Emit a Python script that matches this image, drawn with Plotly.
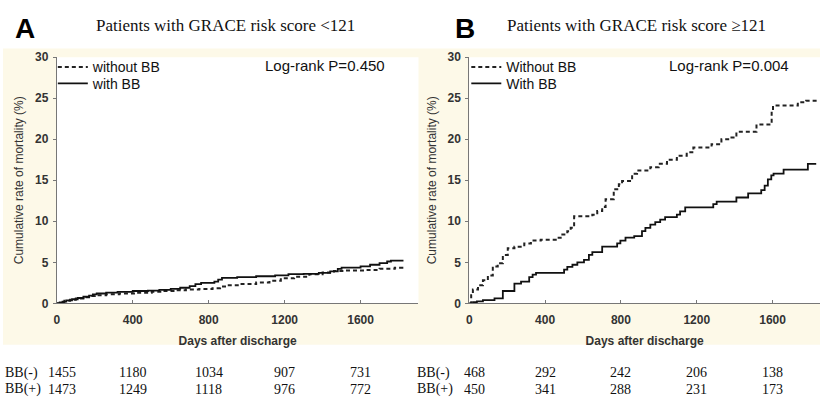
import plotly.graph_objects as go

W, H = 820, 403

# ---------------- data ----------------
# Panel A: GRACE risk score < 121
a_with_days = [0, 15, 30, 50, 80, 110, 140, 170, 190, 210, 260, 320, 400, 480, 540, 600, 650, 700,
               730, 760, 830, 850, 870, 950, 1050, 1150, 1220, 1300, 1380, 1440, 1480, 1500, 1600,
               1650, 1700, 1740, 1760, 1826]
a_with_vals = [0, 0.1, 0.2, 0.35, 0.5, 0.65, 0.8, 0.95, 1.1, 1.2, 1.3, 1.4, 1.5, 1.55, 1.65, 1.75, 1.9, 2.1,
               2.35, 2.5, 2.65, 2.9, 3.1, 3.2, 3.3, 3.4, 3.55, 3.6, 3.7, 3.9, 4.2, 4.35, 4.5,
               4.7, 4.9, 5.1, 5.2, 5.2]
a_without_days = [0, 20, 40, 70, 100, 140, 170, 200, 260, 330, 420, 500, 560, 620, 680, 750, 820, 860,
                  900, 960, 1050, 1120, 1180, 1250, 1330, 1400, 1460, 1520, 1620, 1700, 1780, 1820, 1826]
a_without_vals = [0, 0.15, 0.3, 0.45, 0.6, 0.75, 0.9, 1.0, 1.1, 1.2, 1.3, 1.4, 1.5, 1.6, 1.7, 1.75, 1.85, 2.05,
                  2.2, 2.35, 2.55, 2.75, 3.05, 3.25, 3.55, 3.75, 3.95, 4.0, 4.05, 4.2, 4.35, 4.6, 4.6]

# Panel B: GRACE risk score >= 121
b_with_days = [0, 20, 40, 72, 133, 177, 238, 273, 316, 334, 352, 500, 517, 544, 570, 605, 631, 649,
               701, 780, 797, 824, 870, 911, 929, 955, 981, 1007, 1033, 1095, 1112, 1139, 1287, 1305,
               1409, 1471, 1540, 1558, 1575, 1593, 1605, 1658, 1786, 1830]
b_with_vals = [0, 0.15, 0.23, 0.4, 0.6, 1.5, 2.4, 2.65, 3.2, 3.5, 3.7, 4.1, 4.45, 4.7, 5.0, 5.3, 5.9, 6.25,
               6.9, 7.3, 7.65, 8.0, 8.2, 8.8, 9.2, 9.6, 9.9, 10.2, 10.5, 10.8, 11.2, 11.7, 12.1, 12.4,
               12.9, 13.4, 13.8, 14.35, 15.1, 15.6, 15.8, 16.3, 17.0, 17.0]
b_without_days = [0, 10, 19, 46, 72, 98, 124, 150, 177, 203, 238, 290, 325, 377, 456, 482, 517, 535,
                  553, 649, 675, 701, 719, 762, 789, 806, 859, 885, 955, 999, 1043, 1095, 1147, 1182,
                  1278, 1330, 1383, 1409, 1515, 1595, 1602, 1733, 1777, 1845]
b_without_vals = [0, 1.0, 1.7, 2.2, 2.8, 3.4, 4.5, 4.9, 5.9, 6.7, 6.9, 7.3, 7.65, 7.75, 8.0, 8.4, 8.8, 9.2,
                  10.6, 10.8, 11.25, 11.75, 12.7, 13.9, 14.5, 14.9, 15.8, 16.2, 16.6, 17.0, 17.5, 18.0, 18.4, 19.0,
                  19.4, 20.0, 20.2, 20.9, 21.8, 23.5, 24.1, 24.5, 24.7, 24.7]

# numbers at risk
risk_days = [0, 400, 800, 1200, 1600]
a_risk_minus = [1455, 1180, 1034, 907, 731]
a_risk_plus = [1473, 1249, 1118, 976, 772]
b_risk_minus = [468, 292, 242, 206, 138]
b_risk_plus = [450, 341, 288, 231, 173]

x_ticks = [0, 400, 800, 1200, 1600]
y_ticks = [0, 5, 10, 15, 20, 25, 30]

titles = ["Patients with GRACE risk score <121", "Patients with GRACE risk score \u2265121"]
pvals = ["Log-rank P=0.450", "Log-rank P=0.004"]
legend_names = [["without BB", "with BB"], ["Without BB", "With BB"]]

# ---------------- styling ----------------
CREAM = "#fdf9e8"
SANS = "Liberation Sans, Arial, sans-serif"
SERIF = "Liberation Serif, Times New Roman, serif"
AX = "#777777"
TXT = "#333333"


def px(x):
    return x / W


def py(y):
    return 1 - y / H


fig = go.Figure()

# Panel A
fig.add_trace(go.Scatter(x=a_without_days, y=a_without_vals, mode="lines", line_shape="hv",
                         line=dict(color="#222", width=2, dash="4px,3px"),
                         name=legend_names[0][0], legend="legend", xaxis="x", yaxis="y"))
fig.add_trace(go.Scatter(x=a_with_days, y=a_with_vals, mode="lines", line_shape="hv",
                         line=dict(color="#111", width=1.8),
                         name=legend_names[0][1], legend="legend2", xaxis="x", yaxis="y"))
# Panel B
fig.add_trace(go.Scatter(x=b_without_days, y=b_without_vals, mode="lines", line_shape="hv",
                         line=dict(color="#222", width=2, dash="4px,3px"),
                         name=legend_names[1][0], legend="legend3", xaxis="x2", yaxis="y2"))
fig.add_trace(go.Scatter(x=b_with_days, y=b_with_vals, mode="lines", line_shape="hv",
                         line=dict(color="#111", width=1.8),
                         name=legend_names[1][1], legend="legend4", xaxis="x2", yaxis="y2"))

y_dom = [py(307), py(52)]

xcommon = dict(showline=True, linecolor=AX, linewidth=1, ticks="inside", ticklen=3, tickcolor=AX,
               tickvals=x_ticks, showgrid=False, zeroline=False, ticklabelstandoff=5,
               tickfont=dict(family=SANS, size=12, color=TXT, weight="bold"),
               title=dict(text="Days after discharge", font=dict(family=SANS, size=12, color=TXT, weight="bold"),
                          standoff=10))
ycommon = dict(showline=True, linecolor=AX, linewidth=1, ticks="outside", ticklen=3, tickcolor=AX,
               tickvals=y_ticks, range=[0, 30], showgrid=False, zeroline=False, ticklabelstandoff=2,
               tickfont=dict(family=SANS, size=12, color=TXT, weight="bold"),
               title=dict(text="Cumulative rate of mortality (%)", font=dict(family=SANS, size=12, color=TXT),
                          standoff=8))


def leg(xp, yp):
    return dict(x=px(xp), y=py(yp), xanchor="left", yanchor="top", bgcolor="rgba(0,0,0,0)",
                font=dict(family=SANS, size=14, color="#111"))


fig.update_layout(
    width=W, height=H,
    margin=dict(l=0, r=0, t=0, b=0),
    paper_bgcolor="white", plot_bgcolor="white",
    xaxis=dict(domain=[px(54), px(417)], range=[0, 1905], anchor="y", **xcommon),
    yaxis=dict(domain=y_dom, anchor="x", **ycommon),
    xaxis2=dict(domain=[px(468), px(820)], range=[0, 1850], anchor="y2", **xcommon),
    yaxis2=dict(domain=y_dom, anchor="x2", **ycommon),
    legend=leg(50, 46), legend2=leg(50, 63),
    legend3=leg(465, 46), legend4=leg(465, 63),
    showlegend=True,
)

# cream background band, with white plot areas on top of it
fig.add_shape(type="rect", xref="paper", yref="paper", x0=0, x1=1, y0=py(350), y1=py(43),
              fillcolor=CREAM, line_width=0, layer="below")
for xr, yr in [("x domain", "y domain"), ("x2 domain", "y2 domain")]:
    fig.add_shape(type="rect", xref=xr, yref=yr, x0=0, x1=1, y0=0, y1=1,
                  fillcolor="white", line_width=0, layer="below")

ann = []
# panel letters and titles
for letter, lx, title, tx in [("A", 22, titles[0], 223), ("B", 464, titles[1], 636)]:
    ann.append(dict(text=letter, x=px(lx), y=py(22), xref="paper", yref="paper", showarrow=False,
                    xanchor="center", yanchor="middle",
                    font=dict(family=SANS, size=28, color="black", weight="bold")))
    ann.append(dict(text=title, x=px(tx), y=py(19), xref="paper", yref="paper", showarrow=False,
                    xanchor="center", yanchor="middle", font=dict(family=SERIF, size=17, color="#111")))
# log-rank
for txt, lx in [(pvals[0], 261), (pvals[1], 666)]:
    ann.append(dict(text=txt, x=px(lx), y=py(61), xref="paper", yref="paper", showarrow=False,
                    xanchor="left", yanchor="middle", font=dict(family=SANS, size=15, color="#111")))

# numbers at risk
for xr, lab_x, minus, plus in [("x", 0, a_risk_minus, a_risk_plus), ("x2", 414, b_risk_minus, b_risk_plus)]:
    for lab, vals, yy in [("BB(-)", minus, 379), ("BB(+)", plus, 396)]:
        ann.append(dict(text=lab, x=px(lab_x), y=py(yy), xref="paper", yref="paper", showarrow=False,
                        xanchor="left", yanchor="middle", font=dict(family=SERIF, size=14, color="#111")))
        for i, (d, v) in enumerate(zip(risk_days, vals)):
            ann.append(dict(text=str(v), x=d, y=py(yy), xref=xr, yref="paper", showarrow=False,
                            xanchor="center", yanchor="middle", xshift=5 if i == 0 else 0,
                            font=dict(family=SERIF, size=14, color="#111")))

fig.update_layout(annotations=ann)

fig.write_html("out.html")
